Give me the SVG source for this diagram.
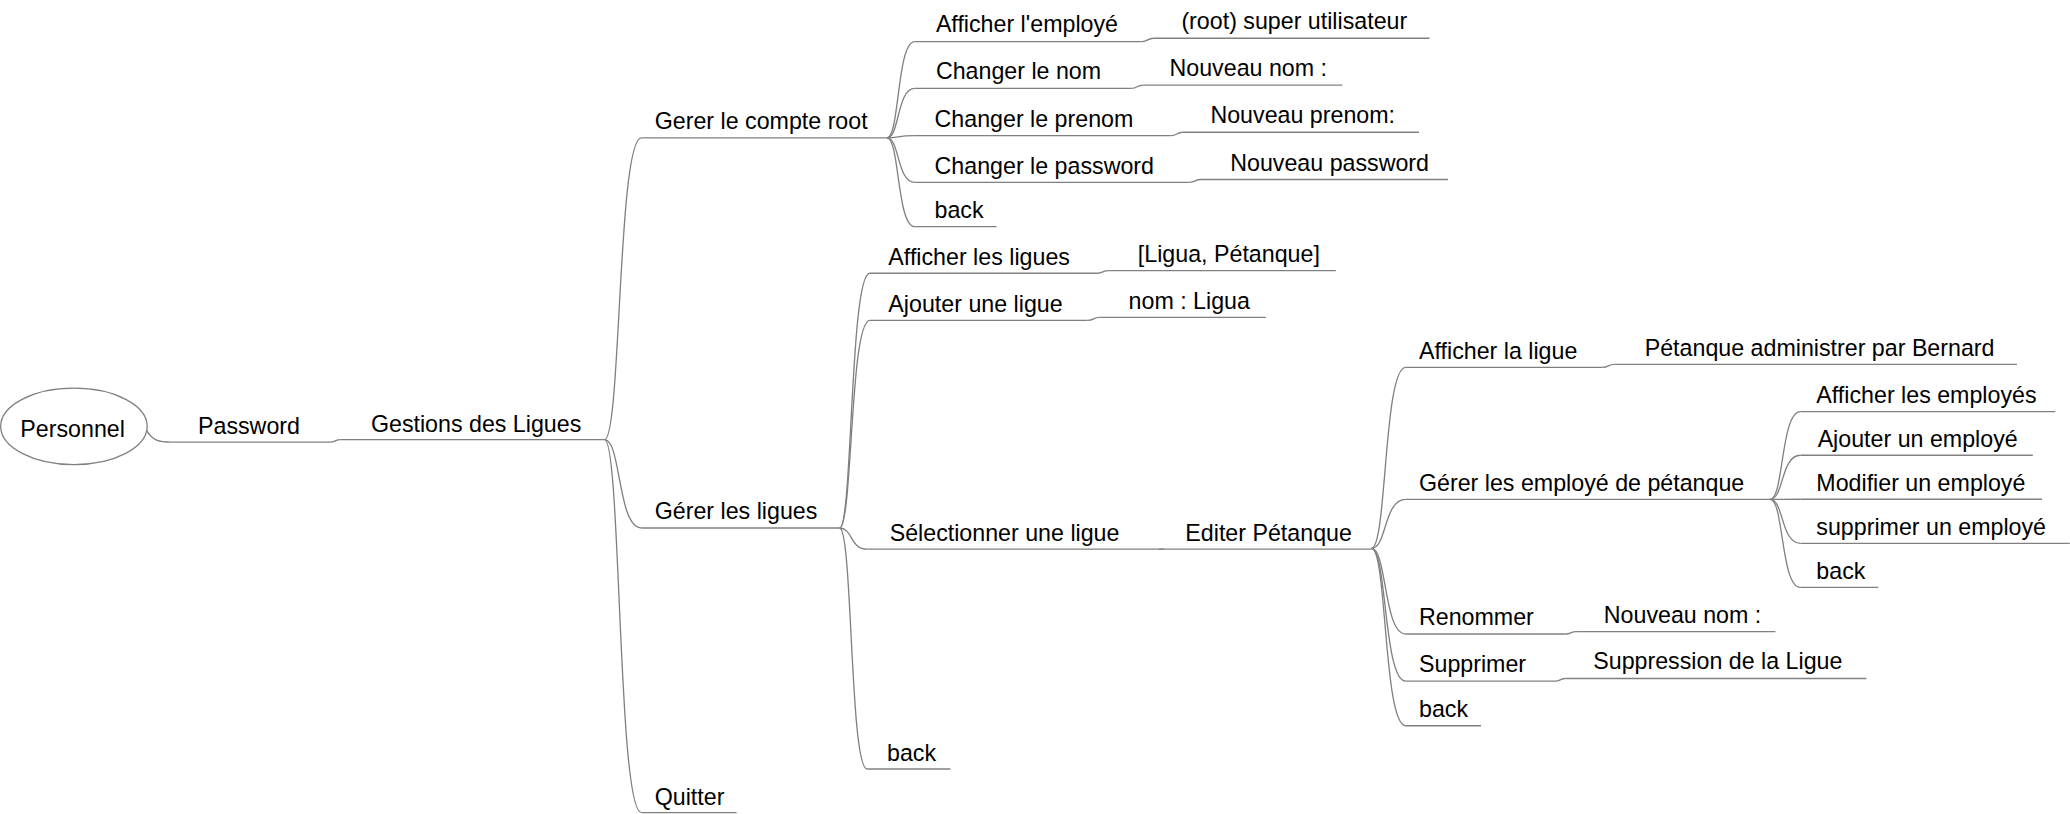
<svg xmlns="http://www.w3.org/2000/svg" width="2070" height="814" viewBox="0 0 2070 814">
<style>
.t{font-family:"Liberation Sans",Arial,sans-serif;font-size:17.6px;fill:#000}
.u{stroke:#808080;stroke-width:1;fill:none}
.c{stroke:#808080;stroke-width:1;fill:none}
</style>
<rect width="2070" height="814" fill="#fff"/>
<g transform="scale(1.32)">
<g id="connectors">
<path class="c" d="M111,326 C116,334 120,335 130,335"/>
<path class="c" d="M250,335 C254,335 254,333 258,333"/>
<path class="c" d="M458,333 C470.6,333 467.8,104.5 486,104.5"/>
<path class="c" d="M458,333 C470.6,333 467.8,400 486,400"/>
<path class="c" d="M458,333 C470.6,333 467.8,615.6 486,615.6"/>
<path class="c" d="M672,104.5 C681.5,104.5 679.4,31.5 693,31.5"/>
<path class="c" d="M672,104.5 C681.5,104.5 679.4,67 693,67"/>
<path class="c" d="M672,104.5 C681.5,104.5 679.4,102.8 693,102.8"/>
<path class="c" d="M672,104.5 C681.5,104.5 679.4,138.1 693,138.1"/>
<path class="c" d="M672,104.5 C681.5,104.5 679.4,171.7 693,171.7"/>
<path class="c" d="M865,31.5 C870,31.5 869,29 874,29"/>
<path class="c" d="M857,67 C862,67 861,64.5 866,64.5"/>
<path class="c" d="M887,102.8 C892,102.8 891,100.2 896,100.2"/>
<path class="c" d="M901,138.1 C906,138.1 905,136 910,136"/>
<path class="c" d="M636,400 C646,400 643.7,207 659,207"/>
<path class="c" d="M636,400 C646,400 643.7,242.7 659,242.7"/>
<path class="c" d="M636,400 C646,400 643.7,416 657,416"/>
<path class="c" d="M636,400 C646,400 643.7,582.6 657,582.6"/>
<path class="c" d="M831,207 C836,207 835,205 840,205"/>
<path class="c" d="M824,242.7 C829,242.7 828,240.4 833,240.4"/>
<path class="c" d="M878,416 L882,416"/>
<path class="c" d="M1039,415.5 C1050.7,415.5 1048.1,278.3 1065,278.3"/>
<path class="c" d="M1039,415.5 C1050.7,415.5 1048.1,378.3 1065,378.3"/>
<path class="c" d="M1039,415.5 C1050.7,415.5 1048.1,480.3 1065,480.3"/>
<path class="c" d="M1039,415.5 C1050.7,415.5 1048.1,516 1065,516"/>
<path class="c" d="M1039,415.5 C1050.7,415.5 1048.1,549.8 1065,549.8"/>
<path class="c" d="M1214,278.3 C1219,278.3 1218,276 1223,276"/>
<path class="c" d="M1186,480.3 C1190,480.3 1190,478.5 1194,478.5"/>
<path class="c" d="M1178,516 C1182,516 1182,514 1186,514"/>
<path class="c" d="M1341,378.3 C1351.4,378.3 1349,311.8 1364,311.8"/>
<path class="c" d="M1341,378.3 C1351.4,378.3 1349,344.9 1364,344.9"/>
<path class="c" d="M1341,378.3 C1351.4,378.3 1349,378.2 1364,378.2"/>
<path class="c" d="M1341,378.3 C1351.4,378.3 1349,411.6 1364,411.6"/>
<path class="c" d="M1341,378.3 C1351.4,378.3 1349,445 1364,445"/>
</g>
<g id="n-personnel"><ellipse cx="56" cy="323" rx="55.5" ry="29" fill="#fff" stroke="#808080" stroke-width="1"/><text class="t" x="55" y="331" text-anchor="middle">Personnel</text></g>
<g id="n-password"><line class="u" x1="130" y1="335" x2="250" y2="335"/><text class="t" x="150" y="329">Password</text></g>
<g id="n-gestions"><line class="u" x1="258" y1="333" x2="458" y2="333"/><text class="t" x="281" y="327">Gestions des Ligues</text></g>
<g id="n-compte-root"><line class="u" x1="486" y1="104.5" x2="672" y2="104.5"/><text class="t" x="496" y="98">Gerer le compte root</text></g>
<g id="n-afficher-employe"><line class="u" x1="693" y1="31.5" x2="865" y2="31.5"/><text class="t" x="709" y="24.5">Afficher l'employé</text></g>
<g id="n-root-super"><line class="u" x1="874" y1="29" x2="1083" y2="29"/><text class="t" x="895" y="22">(root) super utilisateur</text></g>
<g id="n-changer-nom"><line class="u" x1="693" y1="67" x2="857" y2="67"/><text class="t" x="709" y="60">Changer le nom</text></g>
<g id="n-nouveau-nom"><line class="u" x1="866" y1="64.5" x2="1017" y2="64.5"/><text class="t" x="886" y="57.5">Nouveau nom :</text></g>
<g id="n-changer-prenom"><line class="u" x1="693" y1="102.8" x2="887" y2="102.8"/><text class="t" x="708" y="96">Changer le prenom</text></g>
<g id="n-nouveau-prenom"><line class="u" x1="896" y1="100.2" x2="1075" y2="100.2"/><text class="t" x="917" y="93.5">Nouveau prenom:</text></g>
<g id="n-changer-password"><line class="u" x1="693" y1="138.1" x2="901" y2="138.1"/><text class="t" x="708" y="131.5">Changer le password</text></g>
<g id="n-nouveau-password"><line class="u" x1="910" y1="136" x2="1097" y2="136"/><text class="t" x="932" y="129.5">Nouveau password</text></g>
<g id="n-back1"><line class="u" x1="693" y1="171.7" x2="755" y2="171.7"/><text class="t" x="708" y="165">back</text></g>
<g id="n-gerer-ligues"><line class="u" x1="486" y1="400" x2="636" y2="400"/><text class="t" x="496" y="393.5">Gérer les ligues</text></g>
<g id="n-afficher-ligues"><line class="u" x1="659" y1="207" x2="831" y2="207"/><text class="t" x="673" y="200.5">Afficher les ligues</text></g>
<g id="n-liste-ligues"><line class="u" x1="840" y1="205" x2="1012" y2="205"/><text class="t" x="862" y="198.5">[Ligua, Pétanque]</text></g>
<g id="n-ajouter-ligue"><line class="u" x1="659" y1="242.7" x2="824" y2="242.7"/><text class="t" x="673" y="236">Ajouter une ligue</text></g>
<g id="n-nom-ligua"><line class="u" x1="833" y1="240.4" x2="959" y2="240.4"/><text class="t" x="855" y="234">nom : Ligua</text></g>
<g id="n-selectionner"><line class="u" x1="657" y1="416" x2="880" y2="416"/><text class="t" x="674" y="410">Sélectionner une ligue</text></g>
<g id="n-editer"><line class="u" x1="880" y1="416" x2="1039" y2="416"/><text class="t" x="898" y="410">Editer Pétanque</text></g>
<g id="n-back2"><line class="u" x1="657" y1="582.6" x2="720" y2="582.6"/><text class="t" x="672" y="576.5">back</text></g>
<g id="n-quitter"><line class="u" x1="486" y1="615.6" x2="558" y2="615.6"/><text class="t" x="496" y="610">Quitter</text></g>
<g id="n-afficher-ligue"><line class="u" x1="1065" y1="278.3" x2="1214" y2="278.3"/><text class="t" x="1075" y="272">Afficher la ligue</text></g>
<g id="n-petanque-admin"><line class="u" x1="1223" y1="276" x2="1528" y2="276"/><text class="t" x="1246" y="269.5">Pétanque administrer par Bernard</text></g>
<g id="n-gerer-employes"><line class="u" x1="1065" y1="378.3" x2="1341" y2="378.3"/><text class="t" x="1075" y="372">Gérer les employé de pétanque</text></g>
<g id="n-afficher-employes"><line class="u" x1="1364" y1="311.8" x2="1557" y2="311.8"/><text class="t" x="1376" y="305">Afficher les employés</text></g>
<g id="n-ajouter-employe"><line class="u" x1="1364" y1="344.9" x2="1540" y2="344.9"/><text class="t" x="1377" y="338.5">Ajouter un employé</text></g>
<g id="n-modifier-employe"><line class="u" x1="1364" y1="378.2" x2="1547" y2="378.2"/><text class="t" x="1376" y="372">Modifier un employé</text></g>
<g id="n-supprimer-employe"><line class="u" x1="1364" y1="411.6" x2="1568" y2="411.6"/><text class="t" x="1376" y="405">supprimer un employé</text></g>
<g id="n-back3"><line class="u" x1="1364" y1="445" x2="1423" y2="445"/><text class="t" x="1376" y="438.5">back</text></g>
<g id="n-renommer"><line class="u" x1="1065" y1="480.3" x2="1186" y2="480.3"/><text class="t" x="1075" y="473.5">Renommer</text></g>
<g id="n-nouveau-nom2"><line class="u" x1="1194" y1="478.5" x2="1345" y2="478.5"/><text class="t" x="1215" y="472">Nouveau nom :</text></g>
<g id="n-supprimer"><line class="u" x1="1065" y1="516" x2="1178" y2="516"/><text class="t" x="1075" y="509">Supprimer</text></g>
<g id="n-suppression"><line class="u" x1="1186" y1="514" x2="1414" y2="514"/><text class="t" x="1207" y="507">Suppression de la Ligue</text></g>
<g id="n-back4"><line class="u" x1="1065" y1="549.8" x2="1122" y2="549.8"/><text class="t" x="1075" y="543">back</text></g>
</g>
</svg>
